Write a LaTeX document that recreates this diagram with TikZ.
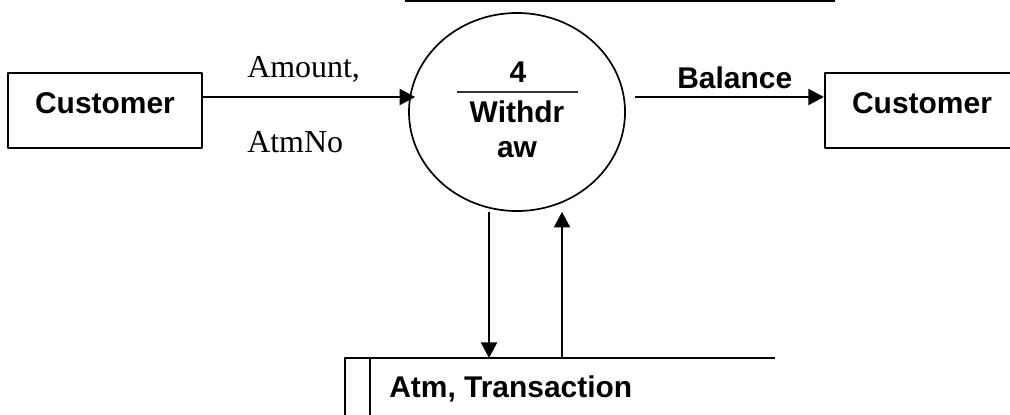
\documentclass[tikz,border=0pt]{standalone}
\usepackage{fontspec}
\setmainfont{Liberation Serif}
\setsansfont{Liberation Sans}
\usetikzlibrary{arrows.meta,shapes.geometric,calc}

\begin{document}
\begin{tikzpicture}[x=0.025cm,y=-0.025cm,line join=round,
    >={Triangle[length=0.39cm,width=0.4cm]},
    every node/.style={inner sep=0pt},
    lbl/.style={font=\sffamily\bfseries\fontsize{21.3pt}{25pt}\selectfont},
    flowtxt/.style={font=\fontsize{22.7pt}{27pt}\selectfont},
    entity/.style={draw,line width=1.5pt,lbl,minimum width=4.85cm,minimum height=1.875cm,text depth=0.35cm},
    flow/.style={->,line width=1.5pt}]
    \useasboundingbox (0,0) rectangle (1010,414);
    \coordinate (lvl) at (0,97); % level of the flows
    \coordinate (dnx) at (489,0);
    \coordinate (upx) at (562,0);
    % entities and process
    \node[entity] (cust1) at (105,110.5) {Customer};
    \node[entity] (cust2) at (922,110.5) {Customer};
    \node[draw,ellipse,line width=1.2pt,minimum width=5.4cm,minimum height=4.95cm] (proc) at (517,112) {};
    \node[lbl,anchor=base] (pnum) at (518,82) {4};
    \node[lbl,anchor=base] (pname1) at (517,122) {Withdr};
    \node[lbl,anchor=base] (pname2) at (517,157) {aw};
    \draw[line width=0.8pt,black!80] (457,92) -- (578,92);
    \draw[line width=1.5pt] (405,1) -- (835,1);
    % data store
    \coordinate (st) at (345,358);
    \coordinate (stR) at (775,358);
    \draw[line width=1.5pt] (stR) -- (st) -- ++(0,70);
    \draw[line width=1.5pt] ($(st)+(25,0)$) -- ++(0,70);
    \node[lbl,anchor=base west] (store) at (389,397) {Atm, Transaction};
    % flows
    \draw[flow] (cust1.east |- lvl) -- ($(proc.west |- lvl)+(7,0)$);
    \node[flowtxt,anchor=base west] (amt) at (247,77) {Amount,};
    \node[flowtxt,anchor=base west] (atmno) at (247,152) {AtmNo};
    \draw[flow] ($(proc.east |- lvl)+(9,0)$) -- (cust2.west |- lvl);
    \node[lbl,anchor=base west] (bal) at (677,88) {Balance};
    \draw[flow] (proc.south -| dnx) -- (st -| dnx);
    \draw[flow] (st -| upx) -- (proc.south -| upx);
\end{tikzpicture}
\end{document}
